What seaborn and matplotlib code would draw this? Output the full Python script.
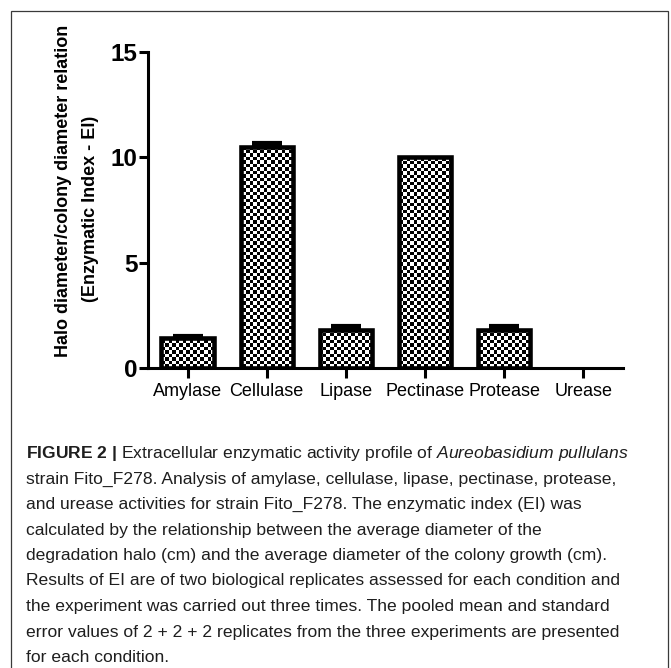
import numpy as np
import pandas as pd
import seaborn as sns
import matplotlib.pyplot as plt
from matplotlib.patches import Rectangle

# enzymatic index per enzyme (mean + SE)
enzymes = ['Amylase', 'Cellulase', 'Lipase', 'Pectinase', 'Protease', 'Urease']
ei_mean = [1.42, 10.5, 1.8, 10.0, 1.8, 0.0]
ei_sem = [0.08, 0.2, 0.18, 0.0, 0.2, 0.0]
y_ticks = [0, 5, 10, 15]

caption = [
    r"$\mathbf{FIGURE\ 2\ |}$ Extracellular enzymatic activity profile of $\mathit{Aureobasidium\ pullulans}$",
    "strain Fito_F278. Analysis of amylase, cellulase, lipase, pectinase, protease,",
    "and urease activities for strain Fito_F278. The enzymatic index (EI) was",
    "calculated by the relationship between the average diameter of the",
    "degradation halo (cm) and the average diameter of the colony growth (cm).",
    "Results of EI are of two biological replicates assessed for each condition and",
    "the experiment was carried out three times. The pooled mean and standard",
    "error values of 2 + 2 + 2 replicates from the three experiments are presented",
    "for each condition.",
]

df = pd.DataFrame({'enzyme': enzymes, 'ei': ei_mean, 'se': ei_sem})

sns.set_style('ticks')
plt.rcParams['font.family'] = ['Liberation Sans', 'DejaVu Sans']
plt.rcParams['mathtext.fontset'] = 'custom'
plt.rcParams['mathtext.rm'] = 'Liberation Sans'
plt.rcParams['mathtext.it'] = 'Liberation Sans:italic'
plt.rcParams['mathtext.bf'] = 'Liberation Sans:bold'
for k in ['text.color', 'axes.labelcolor', 'xtick.color', 'ytick.color', 'axes.edgecolor']:
    plt.rcParams[k] = 'black'

W, H = 671, 668
fig = plt.figure(figsize=(W / 100, H / 100), dpi=100)
ax = fig.add_axes([148 / W, 1 - 368 / H, 475 / W, 316 / H])

sns.barplot(data=df, x='enzyme', y='ei', ax=ax, errorbar=None, width=0.66,
            color='white', edgecolor='black', linewidth=3.3, saturation=1)

ax.set_ylim(0, 15)
ax.set_xlim(-0.5, len(enzymes) - 0.5)

# checkerboard fill (Prism style), clipped to each bar
checker = np.indices((90, 136)).sum(axis=0) % 2
for p, v in zip(ax.patches, ei_mean):
    if v == 0:
        p.set_linewidth(0)
        continue
    p.set_facecolor('none')
    p.set_zorder(2)
    im = ax.imshow(checker, cmap='gray', extent=[-0.5, len(enzymes) - 0.5, 0, 15],
                   interpolation='nearest', aspect='auto', zorder=1)
    im.set_clip_path(p)

has_err = df['se'] > 0
ax.errorbar(np.arange(len(enzymes))[has_err], df['ei'][has_err],
            yerr=[np.zeros(has_err.sum()), df['se'][has_err]],
            fmt='none', ecolor='black', elinewidth=3.0, capsize=11, capthick=3.0,
            zorder=5)

ax.set_ylim(0, 15)
ax.set_xlim(-0.5, len(enzymes) - 0.5)
ax.set_yticks(y_ticks)
ax.set_xlabel('')
ax.set_ylabel('')
sns.despine(ax=ax)
for s in ['left', 'bottom']:
    ax.spines[s].set_linewidth(2.2)
    ax.spines[s].set_zorder(6)
ax.tick_params(axis='y', length=6.5, width=2.2, pad=1, labelsize=17.5)
ax.tick_params(axis='x', length=7, width=2.2, pad=3.5, labelsize=13)
for lbl in ax.get_yticklabels():
    lbl.set_fontweight('bold')

# two-line y label
ax.text((68 - 148) / 475, (368 - 191) / 316, 'Halo diameter/colony diameter relation',
        transform=ax.transAxes, rotation=90, rotation_mode='anchor',
        ha='center', va='baseline', fontsize=13, fontweight='bold')
ax.text((95 - 148) / 475, (368 - 209) / 316, '(Enzymatic Index - EI)',
        transform=ax.transAxes, rotation=90, rotation_mode='anchor',
        ha='center', va='baseline', fontsize=13, fontweight='bold')

# caption under the chart
for i, line in enumerate(caption):
    fig.text(26 / W, 1 - (458 + i * 25.5) / H, line, fontsize=12.6,
             color='#1e1e1e', ha='left', va='baseline')

# frame around figure + caption
fig.patches.append(Rectangle((11 / W, -0.05), 657 / W, 1 - 11 / H + 0.05,
                             transform=fig.transFigure, fill=False,
                             edgecolor='#3a3a3a', linewidth=0.9))

fig.savefig('out.png', dpi=100)
